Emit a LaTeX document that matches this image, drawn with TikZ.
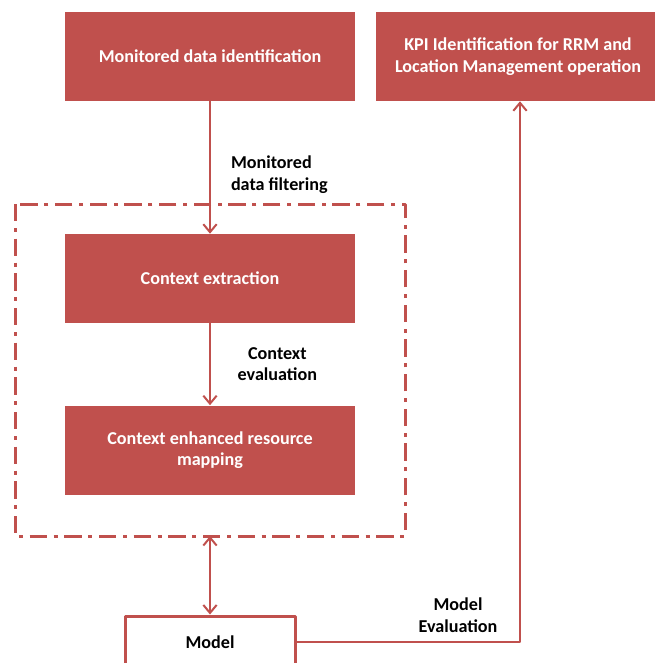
\documentclass[tikz,border=0pt]{standalone}
\usepackage{fontspec}
\setmainfont{Carlito}
\usetikzlibrary{arrows.meta}
\definecolor{boxred}{RGB}{192,80,77}
\begin{document}
\begin{tikzpicture}[x=0.75pt, y=-0.75pt, font=\bfseries\fontsize{13.6}{16.2}\selectfont,
	line join=round, >={Straight Barb[length=6pt,width=10pt]},
	block/.style={fill=boxred, text=white, align=center, inner sep=0pt,
		minimum width=217.5pt, minimum height=66.75pt},
	flow/.style={draw=boxred, line width=1.5pt},
	lbl/.style={text=black, align=center, inner sep=0pt}]
	\useasboundingbox (0,0) rectangle (655,663);
	\clip (0,0) rectangle (655,663);
	% blocks
	\node[block] (mon) at (210,56.5) {Monitored data identification};
	\node[block, minimum width=213pt] (kpi) at (518,56.5) {KPI Identification for RRM  and\\Location Management operation};
	\node[block] (ext) at (210,278.5) {Context extraction};
	\node[block] (map) at (210,450) {Context enhanced resource\\mapping};
	\node[draw=boxred, line width=2.25pt, fill=white, text=black, inner sep=0pt,
		minimum width=127.5pt, minimum height=39pt] (model) at (210,642) {Model};
	% dash-dot frame round the context steps
	\draw[boxred, line width=2.25pt, dash pattern=on 13pt off 5pt on 3pt off 5pt]
		(15,204) rectangle (405,536);
	\coordinate (frame) at (210,536);
	\coordinate (corner) at (520,642);
	% connectors
	\draw[flow,->] (mon) -- (ext) node[lbl, midway, right=15pt, yshift=-5.5pt, align=left] {Monitored\\data filtering};
	\draw[flow,->] (ext) -- (map) node[lbl, midway, right=20pt] {Context\\evaluation};
	\draw[flow,<->] (frame) -- (model);
	\draw[flow,->] (model) -- (corner) -- (kpi.south -| corner);
	\node[lbl] (eval) at (458,615) {Model\\Evaluation};
\end{tikzpicture}
\end{document}
